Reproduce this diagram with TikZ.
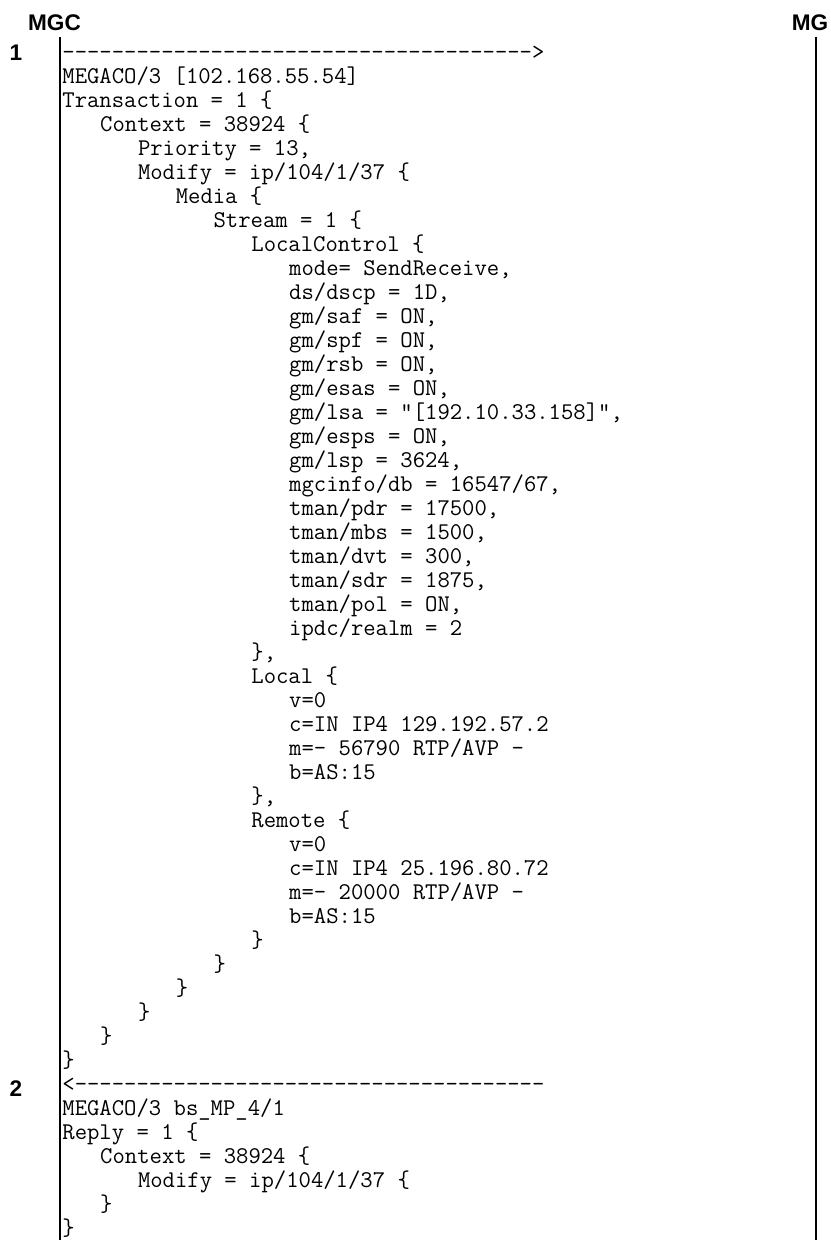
\documentclass[tikz,border=0pt]{standalone}
\usepackage{fontspec}
\setsansfont{Liberation Sans}

% indentation of the trace, in steps of three characters
\newcommand{\lvl}[1]{\hspace*{\dimexpr #1em*1575/1000\relax}}

\tikzset{
    entity/.style={font=\fontsize{11.3}{13}\selectfont\sffamily\bfseries, anchor=base, inner sep=0pt},
    stepno/.style={font=\fontsize{11.3}{13}\selectfont\sffamily\bfseries, anchor=base, inner sep=0pt},
    code/.style={font=\fontsize{12}{12}\selectfont\ttfamily, align=left, anchor=north west, inner sep=0pt},
    lifeline/.style={line width=1.2pt}
}

\begin{document}
\begin{tikzpicture}[x=0.5pt, y=-0.5pt]

    % Page frame (pixel units, y downwards)
    \useasboundingbox (0,0) rectangle (830,1240);

    % The two entities
    \node[entity] (mgc) at (54.5,31) {MGC};
    \node[entity] (mg) at (810,31) {MG};

    % Lifelines
    \coordinate (mgctop) at (60,37);
    \coordinate (mgcbot) at (60,1240);
    \coordinate (mgtop) at (816,37);
    \coordinate (mgbot) at (816,1240);
    \draw[lifeline] (mgctop) -- (mgcbot);
    \draw[lifeline] (mgtop) -- (mgbot);

    % Step numbers
    \node[stepno] (stepone) at (16,61) {1};
    \node[stepno] (steptwo) at (16,1096) {2};

    % Message 1: Modify request
    \node[code] (req) at (62,42.2) {\strut --------------------------------------{>}\\
MEGACO/3 [102.168.55.54]\\
Transaction = 1 \{\\
\lvl{1}Context = 38924 \{\\
\lvl{2}Priority = 13,\\
\lvl{2}Modify = ip/104/1/37 \{\\
\lvl{3}Media \{\\
\lvl{4}Stream = 1 \{\\
\lvl{5}LocalControl \{\\
\lvl{6}mode= SendReceive,\\
\lvl{6}ds/dscp = 1D,\\
\lvl{6}gm/saf = ON,\\
\lvl{6}gm/spf = ON,\\
\lvl{6}gm/rsb = ON,\\
\lvl{6}gm/esas = ON,\\
\lvl{6}gm/lsa = "[192.10.33.158]",\\
\lvl{6}gm/esps = ON,\\
\lvl{6}gm/lsp = 3624,\\
\lvl{6}mgcinfo/db = 16547/67,\\
\lvl{6}tman/pdr = 17500,\\
\lvl{6}tman/mbs = 1500,\\
\lvl{6}tman/dvt = 300,\\
\lvl{6}tman/sdr = 1875,\\
\lvl{6}tman/pol = ON,\\
\lvl{6}ipdc/realm = 2\\
\lvl{5}\},\\
\lvl{5}Local \{\\
\lvl{6}v=0\\
\lvl{6}c=IN IP4 129.192.57.2\\
\lvl{6}m=- 56790 RTP/AVP -\\
\lvl{6}b=AS:15\\
\lvl{5}\},\\
\lvl{5}Remote \{\\
\lvl{6}v=0\\
\lvl{6}c=IN IP4 25.196.80.72\\
\lvl{6}m=- 20000 RTP/AVP -\\
\lvl{6}b=AS:15\\
\lvl{5}\}\\
\lvl{4}\}\\
\lvl{3}\}\\
\lvl{2}\}\\
\lvl{1}\}\\
\}};

    % Message 2: reply
    \node[code] (rep) at (62,1074.2) {\strut {<}--------------------------------------\\
MEGACO/3 bs\_MP\_4/1\\
Reply = 1 \{\\
\lvl{1}Context = 38924 \{\\
\lvl{2}Modify = ip/104/1/37 \{\\
\lvl{1}\}\\
\}};

\end{tikzpicture}
\end{document}
